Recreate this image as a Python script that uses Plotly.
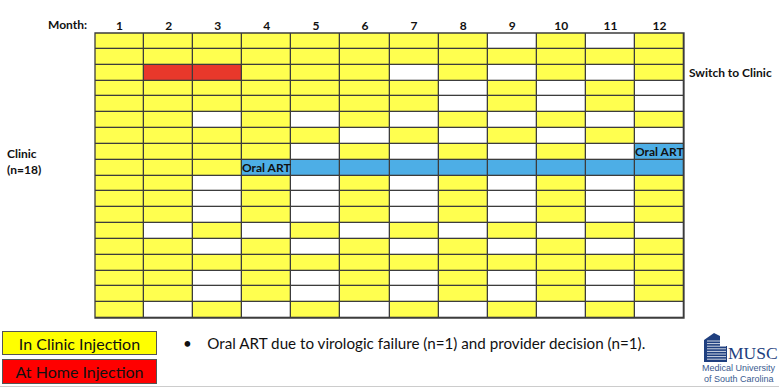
import plotly.graph_objects as go

months = [1, 2, 3, 4, 5, 6, 7, 8, 9, 10, 11, 12]
patients = list(range(1, 19))
# Y = in clinic injection, R = at home injection, O = oral ART, W = no injection
status_rows = [
    "YYYYYYYYWYWY",
    "YYYYYYYYYYYY",
    "YRRYYYWYWYWY",
    "YYYYYYYWYWYW",
    "YYYYYYYWYWYW",
    "YYWYWYWYWYWY",
    "YYYYYWYWYWYW",
    "YYYYWYWYWYWO",
    "YYYOOOOOOOOO",
    "YYWYWYWYWYWY",
    "YYWYWYWYWYWY",
    "YYWYWYWYWYWY",
    "YWYWYWYWYWYW",
    "YYWYWYWYWYWY",
    "YYYYYYYYYYYY",
    "YYWYWYWYWYWY",
    "YYWYWYWYWYWY",
    "YWYWYWYWYWYW",
]
code = {"W": 0, "Y": 1, "R": 2, "O": 3}
oral_art_labels = [(4, 9), (12, 8)]
switch_row = 3

z = [[code[c] for c in row] for row in status_rows]

YEL = "#FFFF4F"
RED = "#E8382B"
BLU = "#4DAEE6"
GRID = "#3C3C3C"

fig = go.Figure(go.Heatmap(
    x=months, y=patients, z=z, zmin=0, zmax=3,
    colorscale=[[0, "#FFFFFF"], [1/3, YEL], [2/3, RED], [1, BLU]],
    showscale=False, xgap=1.3, ygap=1.3, hoverinfo="skip",
))

L, R, T, B = 95, 684, 33, 318
W, H = 779, 388
def px(xp):
    return (xp - L) / (R - L)
def py(yp):
    return (B - yp) / (B - T)

FONT = "Lato"
bold = dict(family=FONT, size=12, color="#111111", weight="bold")

ann = []
def A(**kw):
    kw.setdefault("showarrow", False)
    kw.setdefault("xanchor", "center")
    kw.setdefault("yanchor", "middle")
    ann.append(kw)

for (cx, cy) in oral_art_labels:
    A(x=cx, y=cy, xref="x", yref="y", text="Oral ART", font=bold)
A(x=12.5, y=switch_row, xref="x", yref="y", xanchor="left", text=" Switch to Clinic", font=bold)
A(x=px(89), y=py(25), xref="paper", yref="paper", xanchor="right", text="Month:", font=bold)
A(x=px(22), y=py(153), xref="paper", yref="paper", text="Clinic", font=bold)
A(x=px(24), y=py(169), xref="paper", yref="paper", text="(n=18)", font=bold)

# legend boxes
A(x=px(79.5), y=py(343), xref="paper", yref="paper", text="In Clinic Injection",
  width=151, height=20, bgcolor="#FFFF00", bordercolor="#555555",
  borderwidth=1, borderpad=1, font=dict(family=FONT, size=16, color="#111111"))
A(x=px(79.5), y=py(371.5), xref="paper", yref="paper", text="At Home Injection",
  width=151, height=21, bgcolor="#FF0000", bordercolor="#555555",
  borderwidth=1, borderpad=1, font=dict(family=FONT, size=16, color="#111111"))
A(x=px(181), y=py(343), xref="paper", yref="paper", xanchor="left",
  text="•    Oral ART due to virologic failure (n=1) and provider decision (n=1).",
  font=dict(family=FONT, size=15.2, color="#111111"))

# logo text
NAVY = "#1F3F7F"
A(x=px(726), y=py(353), xref="paper", yref="paper", xanchor="left", text="MUSC",
  font=dict(family="Liberation Serif", size=17.5, color=NAVY))
A(x=px(739), y=py(368.5), xref="paper", yref="paper", text="Medical University",
  font=dict(family="Liberation Sans", size=9, color="#3A5A90"))
A(x=px(739), y=py(378.5), xref="paper", yref="paper", text="of South Carolina",
  font=dict(family="Liberation Sans", size=9, color="#3A5A90"))

shapes = [
    dict(type="rect", xref="paper", yref="paper", x0=0, x1=1, y0=0, y1=1,
         line=dict(color=GRID, width=1.3), fillcolor="rgba(0,0,0,0)"),
    dict(type="line", xref="paper", yref="paper", x0=px(0), x1=px(W), y0=py(386.5), y1=py(386.5),
         line=dict(color="#CCCCCC", width=1)),
    # building logo
    dict(type="path", xref="paper", yref="paper",
         path=f"M {px(704)},{py(362)} L {px(704)},{py(340)} L {px(714)},{py(333)} L {px(720)},{py(336)} "
              f"L {px(720)},{py(346)} L {px(727)},{py(346)} L {px(727)},{py(362)} Z",
         fillcolor=NAVY, line=dict(width=0)),
]
for k in range(8):
    yy = 341 + k * 2.6
    shapes.append(dict(type="line", xref="paper", yref="paper", x0=px(707), x1=px(720 if yy < 346 else 726),
                       y0=py(yy), y1=py(yy), line=dict(color="white", width=0.8)))

fig.update_layout(
    width=W, height=H,
    margin=dict(l=L, r=W - R, t=T, b=H - B, pad=0, autoexpand=False),
    plot_bgcolor=GRID, paper_bgcolor="white",
    xaxis=dict(side="top", range=[0.5, 12.5], tickvals=months, ticktext=[str(m) for m in months],
               showgrid=False, zeroline=False, ticks="", tickfont=bold, fixedrange=True),
    yaxis=dict(range=[18.5, 0.5], showticklabels=False, showgrid=False, zeroline=False, ticks="",
               fixedrange=True),
    annotations=ann, shapes=shapes, showlegend=False,
)

fig.write_html("out.html", config={"displayModeBar": False},
               post_script="document.body.style.margin='0';document.body.style.overflow='hidden';")
